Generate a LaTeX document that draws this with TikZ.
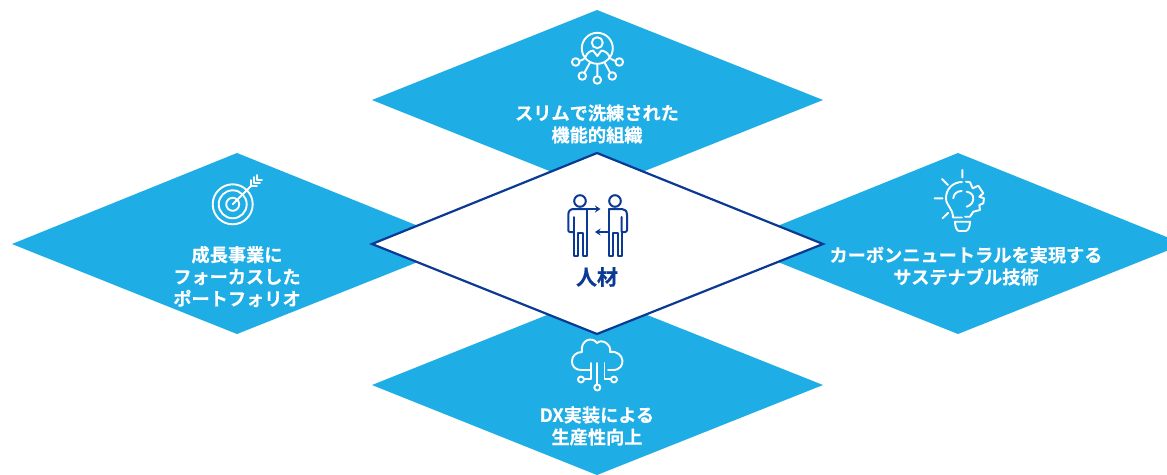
\documentclass[tikz,border=0pt]{standalone}
\usepackage{fontspec}
\newfontfamily\jp{Noto Sans CJK JP}[BoldFont={Noto Sans CJK JP Bold},BoldFeatures={FakeBold=0.25}]
\usetikzlibrary{arrows.meta}
\definecolor{sky}{HTML}{1FADE6}
\definecolor{navy}{HTML}{0B3A94}
\tikzset{
 x=1pt,y=-1pt,
 petal/.style={fill=sky,draw=none},
 hub/.style={fill=white,draw=navy,line width=2.2pt,line join=miter},
 lab/.style={font=\jp\fontsize{18.2}{22}\selectfont\bfseries,text=white,align=center,inner sep=0pt},
 hublab/.style={font=\jp\fontsize{21}{22}\selectfont\bfseries,text=navy,align=center,inner sep=0pt},
 ico/.style={draw=white,line width=1.9pt,line cap=round,line join=round},
 icon/.style={draw=navy,line width=2pt,line cap=round,line join=round},
}
\begin{document}
\begin{tikzpicture}
\useasboundingbox (0,0) rectangle (1167,474);
\fill[petal] (597,10) -- (823,100) -- (597,190) -- (372,100) -- cycle;
\begin{scope}
\clip (0,0) rectangle (1167,474);
\fill[petal] (237,153) -- (463,244) -- (237,334) -- (12,244) -- cycle;
\fill[petal] (958,153) -- (1184,244) -- (958,334) -- (733,244) -- cycle;
\fill[petal] (597,295) -- (823,385) -- (597,475) -- (372,385) -- cycle;
\end{scope}
\draw[hub] (597,153) -- (823,244) -- (597,334) -- (372,244) -- cycle;
% texts
\node[lab] (t1) at (597,124) {スリムで洗練された\\機能的組織};
\node[lab] (t2) at (237,276.5) {成長事業に\\フォーカスした\\ポートフォリオ};
\node[lab] (t3) at (966,266) {カーボンニュートラルを実現する\\サステナブル技術};
\node[lab] (t4) at (597,426) {DX実装による\\生産性向上};
\node[hublab] (t0) at (597,277) {人材};
% network icon
\draw[ico] (597.3,48.3) circle (15.5);
\draw[ico] (597.3,42.7) circle (5.5);
\draw[ico] (585,58) .. controls (587,52) and (591,51) .. (593,50.5) -- (597.3,56) -- (601.5,50.5) .. controls (604,51) and (608,52) .. (610,58);
\draw[ico] (575.7,62) circle (3.8) (619.3,62) circle (3.8) (582.3,76) circle (3.8) (612.3,76) circle (3.8) (597.3,80) circle (3.8);
\draw[ico] (579.5,61) -- (584,59) (615.5,61) -- (611,59) (584.5,72.5) -- (590,62.5) (610,72.5) -- (604.5,62.5) (597.3,64) -- (597.3,76);
% target icon
\draw[ico] (232.7,204.3) circle (20) (232.7,204.3) circle (14) (232.7,204.3) circle (6.5);
\draw[ico] (232.7,204.3) -- (251,186);
\draw[ico] (251,186) -- (251,180) (251,186) -- (257,186) (254,183) -- (254,177) (254,183) -- (260,183) (257,180) -- (257,175) (257,180) -- (262,180);
% bulb icon
\draw[ico] (962.3,170) -- (962.3,177.5) (942,179) -- (948,185) (934.5,198.3) -- (942.5,198.3) (942.5,218.3) -- (948.3,212.7);
\draw[ico] (962,182) .. controls (953,182) and (946,189) .. (946,198) .. controls (946,206) and (953,208) .. (953,217.5) -- (962,217.5);
\draw[ico] (953.3,198.3) .. controls (953.5,194) and (957,191) .. (961.7,191);
\draw[ico] (966,181.7) -- (970,182.3) -- (972.7,188.3) -- (978.3,185.7) -- (983.3,193.3) -- (979.3,196.7) -- (984,198.3) -- (983.3,203.3) -- (979.3,205) -- (980,210) -- (973.3,211.7) -- (970,216.7) -- (965,216.7);
\draw[ico] (966.7,191.7) .. controls (971,192.5) and (973.3,195) .. (973.3,198.3) .. controls (973.3,202) and (971,205.5) .. (966.7,206.7);
\draw[ico] (955,221.7) -- (970,221.7) .. controls (970,227) and (968,231) .. (965.5,231) -- (959,231) .. controls (957,231) and (955,227) .. (955,221.7) -- cycle;
% people icon
\draw[icon] (580,201) circle (5.8) (615,201) circle (5.8);
\draw[icon] (573.5,232) -- (570,232) .. controls (568.8,232) and (568.3,231) .. (568.3,230) -- (568.3,215) .. controls (568.3,211) and (570,209) .. (574,209) -- (586,209);
\draw[icon,-{Stealth[length=5.5pt,width=7pt]}] (586,209) -- (600.5,209);
\draw[icon] (573.5,217) -- (573.5,255.5) -- (577.5,255.5) -- (577.5,233) -- (582.5,233) -- (582.5,255.5) -- (586.5,255.5) -- (586.5,209);
\draw[icon] (609,209) -- (622,209) .. controls (625,209) and (627,211) .. (627,215) -- (627,230) .. controls (627,231) and (626.5,232) .. (625,232) -- (621.5,232) -- (621.5,217);
\draw[icon] (621.5,232) -- (621.5,255.5) -- (617.5,255.5) -- (617.5,233) -- (612.5,233) -- (612.5,255.5) -- (608.5,255.5) -- (608.5,209);
\draw[icon,-{Stealth[length=5.5pt,width=7pt]}] (608.5,232) -- (595,232);
% cloud icon
\draw[ico] (590,370) -- (581,370) .. controls (568.5,370) and (569,352) .. (582,352) .. controls (580,340) and (592,336) .. (597,343) .. controls (602,338) and (612,345) .. (610,352) .. controls (625,350) and (627,370) .. (613,370) -- (608,370);
\draw[ico] (590.7,363) -- (590.7,379) -- (584,379);
\draw[ico] (597.3,363) -- (597.3,384);
\draw[ico] (604.5,363) -- (604.5,379) -- (610,379);
\draw[ico] (581,379.5) circle (3) (597.3,387.5) circle (3) (614,379.5) circle (3);
\end{tikzpicture}
\end{document}
